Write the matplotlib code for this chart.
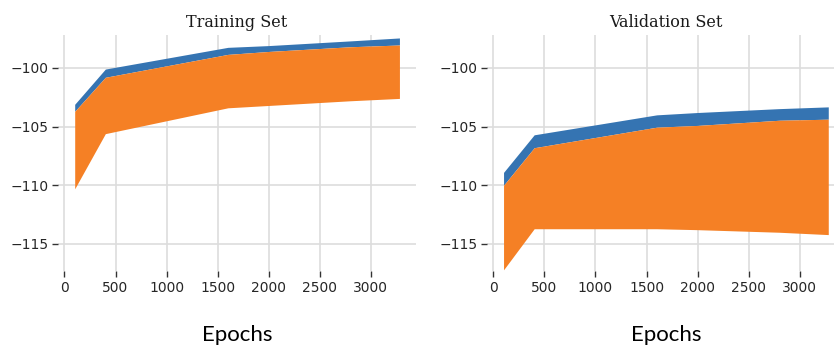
import matplotlib
matplotlib.use("Agg")
import matplotlib.pyplot as plt

# Epochs at which the models were evaluated
epochs = [100, 400, 1600, 2000, 2800, 3280]

# Training set: upper edge of the blue band, and the orange band
train_blue_upper = [-103.1, -100.1, -98.25, -98.1, -97.7, -97.45]
train_orange_upper = [-103.7, -100.8, -98.85, -98.6, -98.2, -98.05]
train_orange_lower = [-110.3, -105.6, -103.4, -103.2, -102.8, -102.6]

# Validation set
val_blue_upper = [-108.9, -105.7, -104.0, -103.8, -103.47, -103.32]
val_orange_upper = [-110.0, -106.8, -105.05, -104.9, -104.46, -104.37]
val_orange_lower = [-117.2, -113.7, -113.7, -113.78, -114.0, -114.2]

y_ticks = [-100, -105, -110, -115]
x_ticks = [0, 500, 1000, 1500, 2000, 2500, 3000]

BLUE = "#3574B2"
ORANGE = "#F58025"

fig = plt.figure(figsize=(8.34, 3.45), dpi=100)
ax_l = fig.add_axes([0.0701, 0.2145, 0.4283, 0.684])
ax_r = fig.add_axes([0.5843, 0.2145, 0.4283, 0.684])

panels = [
    (ax_l, "Training Set", train_blue_upper, train_orange_upper, train_orange_lower),
    (ax_r, "Validation Set", val_blue_upper, val_orange_upper, val_orange_lower),
]

for ax, title, blue_up, orange_up, orange_lo in panels:
    ax.fill_between(epochs, orange_up, blue_up, color=BLUE, linewidth=0, zorder=2)
    ax.fill_between(epochs, orange_lo, orange_up, color=ORANGE, linewidth=0, zorder=3)
    ax.set_ylim(-117.3, -97.2)
    ax.set_xticks(x_ticks)
    ax.set_yticks(y_ticks)
    ax.set_yticklabels([f"\u2212{abs(v)}" for v in y_ticks])
    ax.grid(True, color="#dddddd", linewidth=1.2, zorder=0)
    ax.set_axisbelow(True)
    for s in ax.spines.values():
        s.set_visible(False)
    ax.tick_params(axis="both", length=4, width=1, color="#333333",
                   labelsize=10, labelcolor="#262626", pad=3)
    ax.set_title(title, family="DejaVu Serif", fontsize=11.5, color="#1a1a1a", pad=6)
    ax.set_xlabel("Epochs", family="Lato", fontsize=16, color="black", labelpad=22)

fig.savefig("out.png", dpi=100)
